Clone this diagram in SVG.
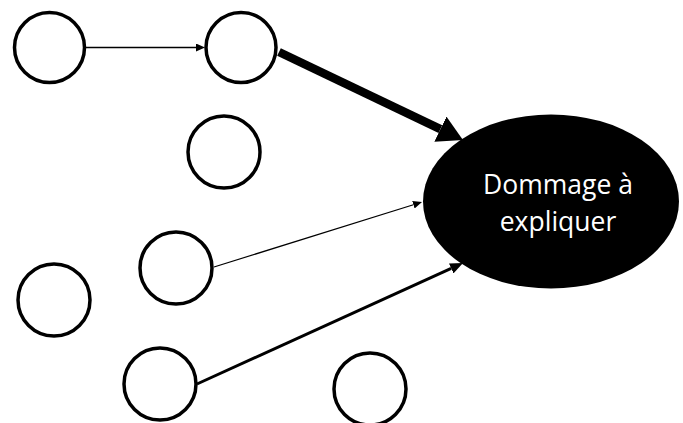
<svg xmlns="http://www.w3.org/2000/svg" width="683" height="423" viewBox="0 0 683 423">
<style>
.n{fill:#fff;stroke:#000;stroke-width:3.5}
.c{stroke:#000;fill:none}
.t{font-family:"Open Sans","Noto Sans","DejaVu Sans",sans-serif;font-size:26.5px;fill:#fff;text-anchor:middle}
</style>
<defs>
<marker id="hs" markerUnits="userSpaceOnUse" markerWidth="9" markerHeight="8" refX="0" refY="4" orient="auto"><path d="M0,0 L9,4 L0,8 z" fill="#000"/></marker>
<marker id="hm" markerUnits="userSpaceOnUse" markerWidth="13" markerHeight="11" refX="0" refY="5.5" orient="auto"><path d="M0,0 L13,5.5 L0,11 z" fill="#000"/></marker>
<marker id="hl" markerUnits="userSpaceOnUse" markerWidth="25" markerHeight="28" refX="0" refY="14" orient="auto"><path d="M0,0 L25,14 L0,28 z" fill="#000"/></marker>
</defs>
<rect width="683" height="423" fill="#fff"/>
<g id="connectors">
<line class="c" x1="86" y1="47.5" x2="196" y2="47.5" stroke-width="1.6" marker-end="url(#hs)"/>
<line class="c" x1="279" y1="52" x2="440.4" y2="129.2" stroke-width="8.5" marker-end="url(#hl)"/>
<line class="c" x1="214" y1="267" x2="413.4" y2="204.7" stroke-width="1.2" marker-end="url(#hs)"/>
<line class="c" x1="197" y1="384" x2="451.2" y2="268.4" stroke-width="3" marker-end="url(#hm)"/>
</g>
<g id="n1"><circle class="n" cx="49.5" cy="47.5" r="35"/></g>
<g id="n2"><circle class="n" cx="241" cy="47.5" r="35"/></g>
<g id="n3"><circle class="n" cx="224" cy="152" r="36"/></g>
<g id="n4"><circle class="n" cx="176" cy="268" r="36"/></g>
<g id="n5"><circle class="n" cx="54" cy="300" r="36"/></g>
<g id="n6"><circle class="n" cx="160" cy="384" r="36"/></g>
<g id="n7"><circle class="n" cx="370" cy="389" r="36"/></g>
<g id="target">
<ellipse cx="551" cy="201.5" rx="128" ry="87" fill="#000"/>
<text class="t" x="558" y="194">Dommage à</text>
<text class="t" x="558" y="231">expliquer</text>
</g>
</svg>
